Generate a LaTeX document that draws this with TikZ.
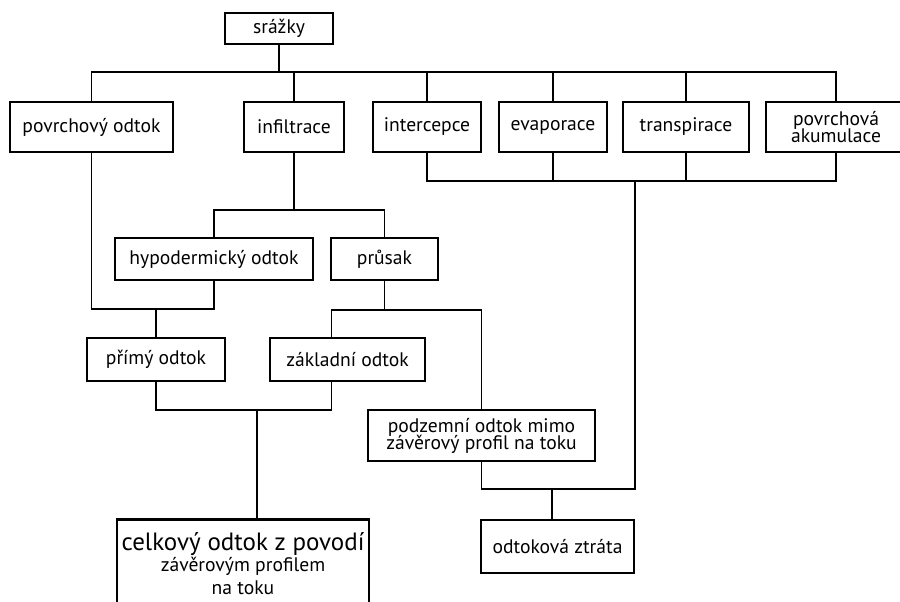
\documentclass[tikz,border=0pt]{standalone}
\usepackage{fontspec}
\setmainfont{PT Sans}
\usetikzlibrary{positioning, calc}

\begin{document}
\begin{tikzpicture}[
    x=0.5pt, y=-0.5pt,
    box/.style={draw, line width=1.4pt, align=center, inner sep=1pt, font=\fontsize{9.8}{10.5}\selectfont},
    link/.style={line width=0.9pt}
]
\useasboundingbox (0,0) rectangle (900,601);

% top level
\node[box, minimum width=54pt, minimum height=15.5pt] (srazky) at (279,28.5) {srážky};
\node[box, minimum width=81.5pt, minimum height=25pt] (povrch) at (91.5,127) {povrchový odtok};
\node[box, minimum width=50pt, minimum height=25pt] (infil) at (294,127) {infiltrace};
\node[box, minimum width=54pt, minimum height=25pt] (inter) at (427,127) {intercepce};
\node[box, minimum width=54pt, minimum height=25pt] (evap) at (553,127) {evaporace};
\node[box, minimum width=63pt, minimum height=25pt] (transp) at (686,127) {transpirace};
\node[box, minimum width=70pt, minimum height=25pt] (akum) at (836,127) {povrchová\\[-2pt]akumulace};

% second level
\node[box, minimum width=99pt, minimum height=21pt] (hypo) at (214,259) {hypodermický odtok};
\node[box, minimum width=53.5pt, minimum height=21pt] (prusak) at (384.5,259) {průsak};
\node[box, minimum width=69pt, minimum height=21.5pt] (primy) at (156,359.5) {přímý odtok};
\node[box, minimum width=77.5pt, minimum height=21.5pt] (zaklad) at (347.5,359.5) {základní odtok};
\node[box, minimum width=113.5pt, minimum height=25.5pt] (podzem) at (481.5,435.5) {podzemní odtok mimo\\[-2pt]závěrový profil na toku};

% outputs
\node[box, minimum width=126pt, minimum height=44pt, anchor=north] (celkem) at (243,518)
    {{\fontsize{12.5}{14}\selectfont celkový odtok z povodí}\\závěrovým profilem\\[1pt]na toku};
\node[box, minimum width=76.5pt, minimum height=26.5pt] (ztrata) at (557.5,546.5) {odtoková ztráta};

% junctions
\coordinate (j1) at (279,72);
\coordinate (j2) at (635,181);
\coordinate (j3) at (infil.south |- 0,210);
\coordinate (j4) at (primy.north |- 0,309);
\coordinate (j5) at (prusak.south |- 0,310);
\coordinate (j6) at (257,410);
\coordinate (j7) at (552,489);

\draw[link] (srazky) -- (j1);
\draw[link] (povrch.north) |- (j1) -| (akum.north);
\foreach \n in {infil,inter,evap,transp}
    \draw[link] (\n.north) -- (\n.north |- j1);
\draw[link] (inter.south) |- (j2) -| (akum.south);
\foreach \n in {evap,transp}
    \draw[link] (\n.south) -- (\n.south |- j2);

\draw[link] (infil.south) -- (j3);
\draw[link] (hypo.north) |- (j3) -| (prusak.north);
\draw[link] (povrch.south) |- (j4) -| (hypo.south);
\draw[link] (j4) -- (primy.north);
\draw[link] (prusak.south) -- (j5);
\draw[link] ([xshift=-8pt]zaklad.north) |- (j5) -| (podzem.north);
\draw[link] (primy.south) |- (j6) -| ([xshift=-8pt]zaklad.south);
\draw[link] (j6) -- (j6 |- celkem.north);
\draw[link] (podzem.south) |- (j7) -| (j2);
\draw[link] (j7) -- (j7 |- ztrata.north);
\end{tikzpicture}
\end{document}
